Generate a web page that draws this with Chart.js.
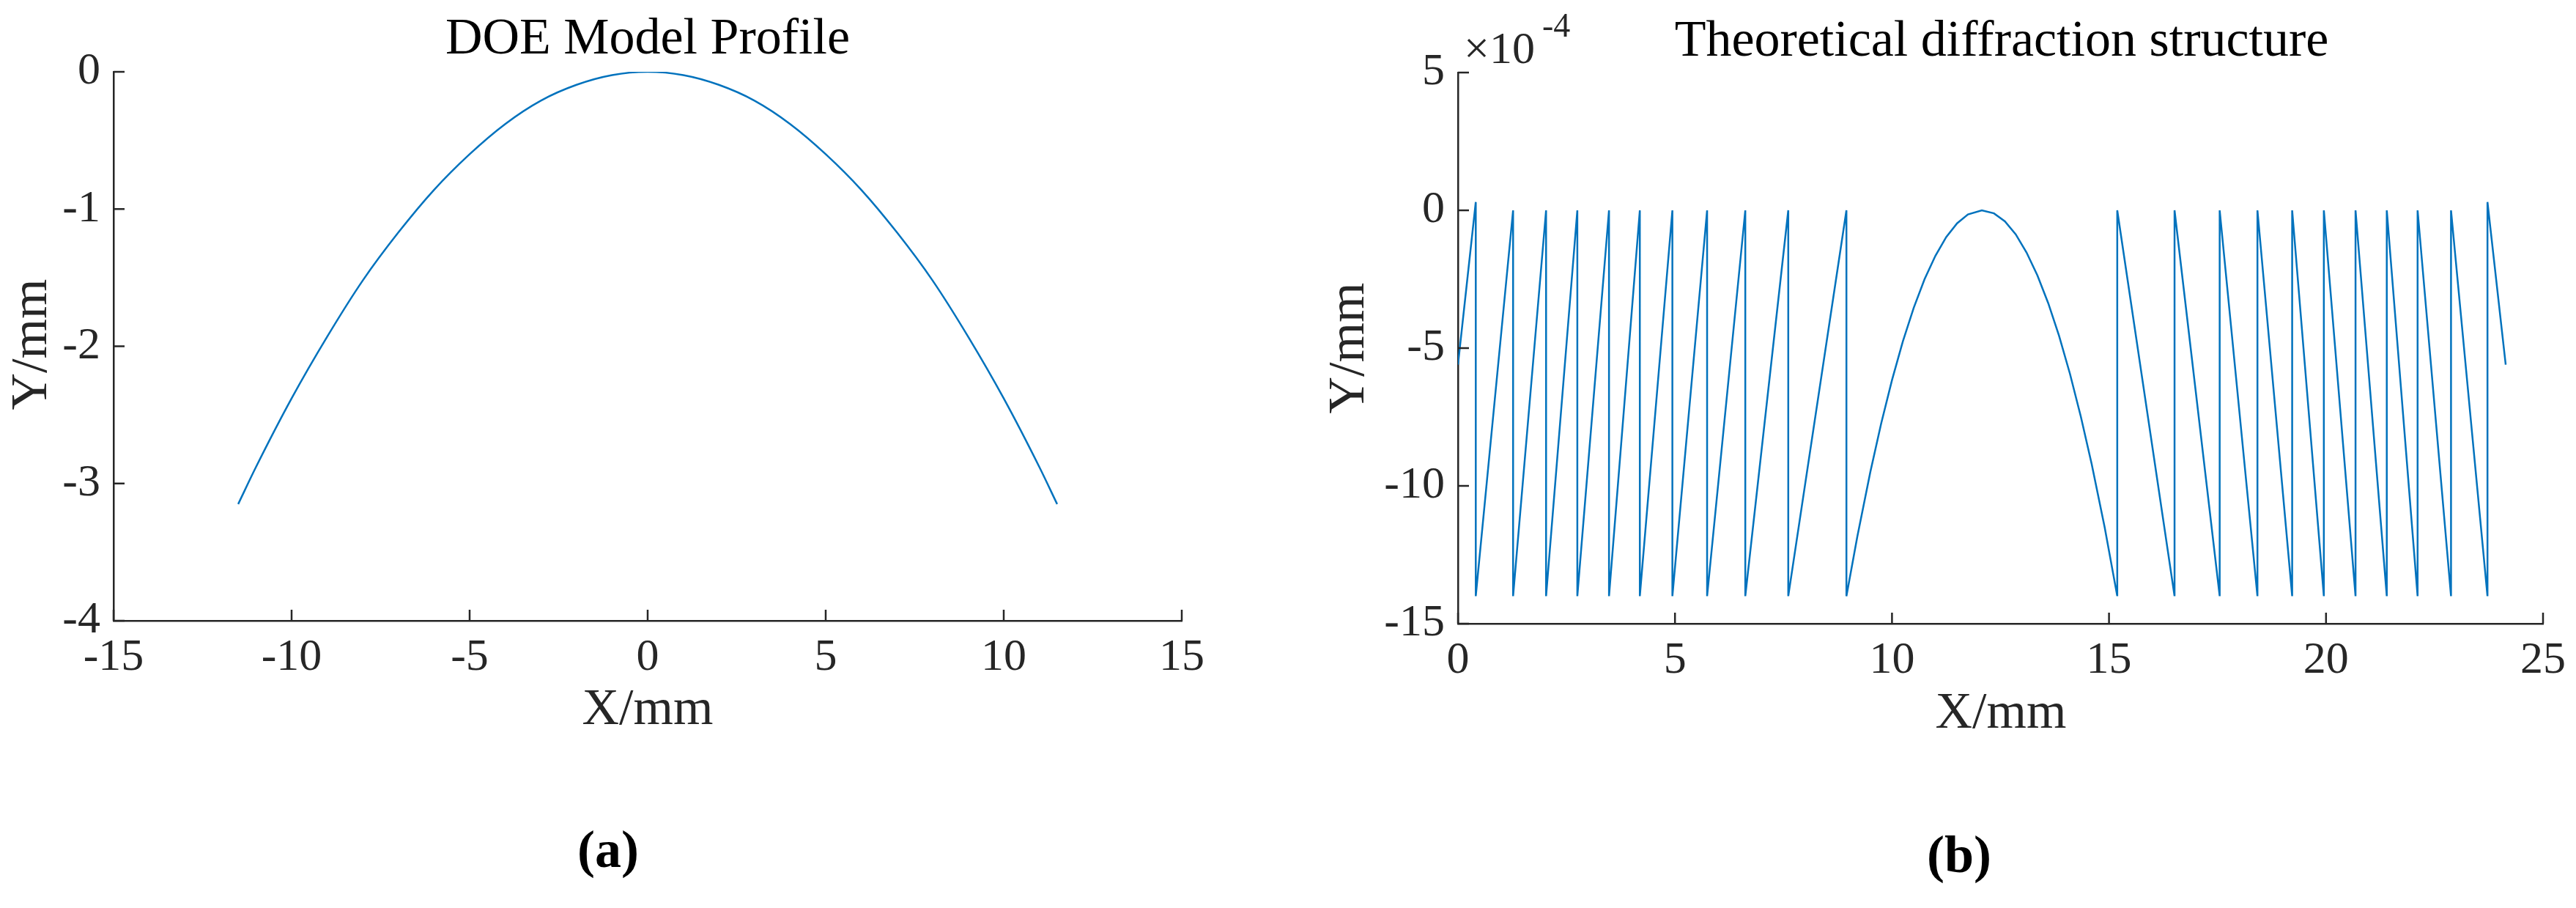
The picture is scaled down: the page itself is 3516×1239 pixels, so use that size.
<!DOCTYPE html>
<html><head><meta charset="utf-8">
<script src="https://cdn.jsdelivr.net/npm/chart.js@4"></script>
<style>body{margin:0;background:#fff;width:3516px;height:1239px;position:relative;overflow:hidden}
.c{position:absolute;top:0}</style></head>
<body>
<div class="c" style="left:0;width:1760px;height:1239px"><canvas id="a"></canvas></div>
<div class="c" style="left:1760px;width:1756px;height:1239px"><canvas id="b"></canvas></div>
<script>
// (a) DOE model profile
const profileX = [-11.5,-11,-10,-9,-8,-7,-6,-5,-4,-3,-2,-1,0,1,2,3,4,5,6,7,8,9,10,11,11.5];
const profileY = [-3.15,-2.88,-2.38,-1.93,-1.52,-1.17,-0.86,-0.60,-0.38,-0.21,-0.095,-0.024,0,-0.024,-0.095,-0.21,-0.38,-0.60,-0.86,-1.17,-1.52,-1.93,-2.38,-2.88,-3.15];
// (b) theoretical diffraction structure (y in units of 1e-4 mm)
const diffX = [0,0.41,0.41,1.27,1.27,2.03,2.03,2.75,2.75,3.48,3.48,4.19,4.19,4.94,4.94,5.74,5.74,6.62,6.62,7.61,7.61,8.95,8.95,
  9.2,9.5,9.75,10,10.25,10.5,10.75,11,11.25,11.5,11.75,12.07,12.35,12.6,12.85,13.1,13.35,13.6,13.85,14.1,14.35,14.6,14.9,15.19,
  15.19,16.51,16.51,17.55,17.55,18.42,18.42,19.22,19.22,19.95,19.95,20.68,20.68,21.40,21.40,22.11,22.11,22.88,22.88,23.72,23.72,24.14];
const diffY = [-5.6,0.3,-14,0,-14,0,-14,0,-14,0,-14,0,-14,0,-14,0,-14,0,-14,0,-14,0,-14,
  -11.85,-9.5,-7.74,-6.16,-4.76,-3.54,-2.5,-1.65,-0.97,-0.47,-0.15,0,-0.11,-0.40,-0.87,-1.53,-2.36,-3.37,-4.56,-5.93,-7.48,-9.2,-11.5,-14,
  0,-14,0,-14,0,-14,0,-14,0,-14,0,-14,0,-14,0,-14,0,-14,0,-14,0.3,-5.6];
const xTicksA=[-15,15,5], yTicksA=[-4,0,1], xTicksB=[0,25,5], yTicksB=[-15,5,5];

const FONT='"Liberation Serif", "DejaVu Serif", serif';
const TXT='#262626', BLUE='#0072BD';

function textPlugin(items){
  return {id:'txt',afterDraw(chart){
    const c=chart.ctx; const ca=chart.chartArea;
    c.save(); c.strokeStyle=TXT; c.lineWidth=2.5;
    const xs=chart.scales.x, ys=chart.scales.y;
    xs.ticks.forEach(t=>{const p=xs.getPixelForValue(t.value);c.beginPath();c.moveTo(p,ca.bottom);c.lineTo(p,ca.bottom-15);c.stroke();});
    ys.ticks.forEach(t=>{const p=ys.getPixelForValue(t.value);c.beginPath();c.moveTo(ca.left,p);c.lineTo(ca.left+15,p);c.stroke();});
    c.restore();
    items.forEach(it=>{c.save();c.fillStyle=it.color||TXT;c.font=it.font;c.textAlign=it.align||'center';c.textBaseline='middle';
      c.translate(it.x,it.y); if(it.rot) c.rotate(it.rot); c.fillText(it.t,0,0); c.restore();});
  }};
}
function mk(id,xsArr,ysArr,xt,yt,pad,yw,xh,items,smooth){
  return new Chart(document.getElementById(id),{
    type:'scatter',
    data:{datasets:[{data:xsArr.map((x,i)=>({x,y:ysArr[i]})),showLine:true,borderColor:BLUE,borderWidth:2.5,pointRadius:0,fill:false,
      tension:smooth?0.4:0,cubicInterpolationMode:smooth?'monotone':'default'}]},
    options:{responsive:true,maintainAspectRatio:false,animation:false,
      layout:{padding:pad},
      plugins:{legend:{display:false},tooltip:{enabled:false}},
      scales:{
        x:{type:'linear',min:xt[0],max:xt[1],ticks:{stepSize:xt[2],color:TXT,font:{family:FONT,size:62},padding:14,maxRotation:0},
          grid:{drawOnChartArea:false,drawTicks:false},border:{display:true,color:TXT,width:2.5},afterFit(s){s.height=xh;}},
        y:{type:'linear',min:yt[0],max:yt[1],ticks:{stepSize:yt[2],color:TXT,font:{family:FONT,size:62},padding:18},
          grid:{drawOnChartArea:false,drawTicks:false},border:{display:true,color:TXT,width:2.5},afterFit(s){s.width=yw;}}
      }},
    plugins:[textPlugin(items)]
  });
}
const T=70;
mk('a',profileX,profileY,xTicksA,yTicksA,{left:0,top:98,right:147,bottom:0},155,1239-847,[
  {t:'DOE Model Profile',x:884,y:55,font:`${T}px ${FONT}`,color:'#000'},
  {t:'X/mm',x:884,y:970,font:`${T}px ${FONT}`},
  {t:'Y/mm',x:45,y:470,rot:-Math.PI/2,font:`${T}px ${FONT}`},
  {t:'(a)',x:830,y:1164,font:`bold 72px ${FONT}`,color:'#000'}
],true);
mk('b',diffX,diffY,xTicksB,yTicksB,{left:0,top:99,right:1756-1712,bottom:0},230,1239-851,[
  {t:'Theoretical diffraction structure',x:972,y:58,font:`${T}px ${FONT}`,color:'#000'},
  {t:'×10',x:238,y:70,font:`62px ${FONT}`,align:'left'},
  {t:'-4',x:345,y:38,font:`46px ${FONT}`,align:'left'},
  {t:'X/mm',x:971,y:975,font:`${T}px ${FONT}`},
  {t:'Y/mm',x:83,y:475,rot:-Math.PI/2,font:`${T}px ${FONT}`},
  {t:'(b)',x:914,y:1171,font:`bold 72px ${FONT}`,color:'#000'}
],false);
</script></body></html>
